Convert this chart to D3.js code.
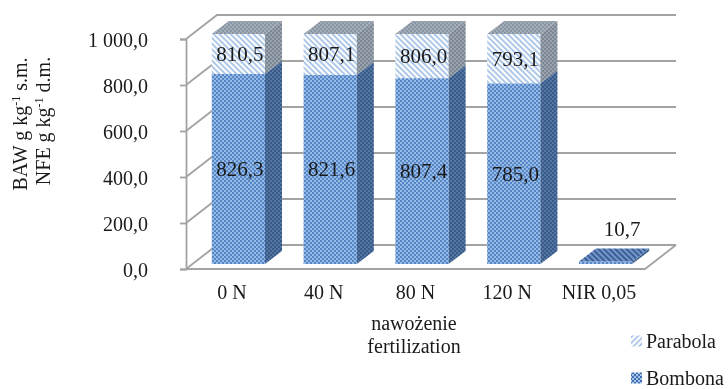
<!DOCTYPE html>
<html>
<head>
<meta charset="utf-8">
<script src="https://cdn.jsdelivr.net/npm/d3@7"></script>
<style>
html, body { margin: 0; padding: 0; background: #fff; }
svg { display: block; filter: blur(0.55px); }
text { font-family: "Liberation Serif", serif; font-size: 20px; fill: #1a1a1a; }
.wall { stroke: #a3a3a3; stroke-width: 1.8; fill: none; }
.val { font-size: 21px; }
</style>
</head>
<body>
<div class="chart"></div>
<script>
var categories = ["0 N", "40 N", "80 N", "120 N", "NIR 0,05"];
var bombona = [826.3, 821.6, 807.4, 785.0, 10.7];
var parabola = [810.5, 807.1, 806.0, 793.1, 0];
var yTicks = [0, 200, 400, 600, 800, 1000];
var legendNames = ["Parabola", "Bombona"];
var xTitle = ["nawożenie", "fertilization"];

var width = 728, height = 389;
var svg = d3.select(".chart").append("svg")
    .attr("width", width)
    .attr("height", height);

// fake 3d: floor depth of the plot and how far into it the bars sit
var floorDx = 31, floorDy = -24;
var barOffX = 6.5, barOffY = -5, barDx = 17, barDy = -13;

var x = d3.scaleBand().domain(categories).range([186, 645]).paddingInner(0.42).paddingOuter(0.21);
var y = d3.scaleLinear().domain([0, 1000]).range([269, 39]);
var locale = d3.formatLocale({ decimal: ",", thousands: " ", grouping: [3] });
var fmt = locale.format(",.1f");

var defs = svg.append("defs");

function checker(id, bg, dot) {
  var p = defs.append("pattern").attr("id", id).attr("width", 4).attr("height", 4)
      .attr("patternUnits", "userSpaceOnUse");
  p.append("rect").attr("width", 4).attr("height", 4).attr("fill", bg);
  p.append("rect").attr("width", 2).attr("height", 2).attr("fill", dot);
  p.append("rect").attr("x", 2).attr("y", 2).attr("width", 2).attr("height", 2).attr("fill", dot);
}
function stripes(id, bg, line, w, angle) {
  var p = defs.append("pattern").attr("id", id).attr("width", 4).attr("height", 4)
      .attr("patternUnits", "userSpaceOnUse").attr("patternTransform", "rotate(" + angle + ")");
  p.append("rect").attr("width", 4).attr("height", 4).attr("fill", bg);
  p.append("rect").attr("width", 4).attr("height", w).attr("fill", line);
}
checker("bombonaFront", "#97b9e6", "#5586c6");
checker("bombonaSide", "#54769f", "#375a8a");
stripes("parabolaFront", "#ffffff", "#aec8e8", 2, 45);
checker("parabolaSide", "#9aa3ad", "#7b8794");
checker("parabolaTop", "#a3adb9", "#8a96a4");
stripes("nirTop", "#7397ca", "#3b5f96", 2, 45);
stripes("legendParabola", "#ffffff", "#9dbce3", 1.6, -45);
checker("legendBombona", "#a9c5ea", "#3f6fb0");

// walls and floor
var grid = svg.append("g");
grid.selectAll(".grid")
  .data(yTicks)
  .enter().append("polyline")
    .attr("class", "wall")
    .attr("points", function(d) {
      return [
        [x.range()[0], y(d)],
        [x.range()[0] + floorDx, y(d) + floorDy],
        [x.range()[1] + floorDx, y(d) + floorDy]
      ].join(" ");
    });
grid.append("polyline")
    .attr("class", "wall")
    .attr("points", [
      [x.range()[0], y(0)],
      [x.range()[1], y(0)],
      [x.range()[1] + floorDx, y(0) + floorDy]
    ].join(" "));

var axis = d3.axisLeft(y)
    .tickValues(yTicks)
    .tickSize(6)
    .tickPadding(32)
    .tickFormat(fmt);
var axisG = svg.append("g")
    .attr("transform", "translate(" + x.range()[0] + ",0)")
    .call(axis);
axisG.select(".domain").attr("stroke", "#a3a3a3").attr("stroke-width", 1.8);
axisG.selectAll(".tick line").attr("stroke", "#a3a3a3").attr("stroke-width", 1.8);
axisG.selectAll(".tick text")
    .style("font-family", '"Liberation Serif", serif')
    .style("font-size", "20px")
    .attr("fill", "#1a1a1a")
    .attr("y", 1);

// one box: front, side, optional top. v0/v1 are clamped to the axis max
function drawBox(g, cat, v0, v1, front, side, top) {
  var x0 = x(cat) + barOffX, x1 = x0 + x.bandwidth();
  var y0 = y(Math.min(v0, 1000)) + barOffY, y1 = y(Math.min(v1, 1000)) + barOffY;
  g.append("path").attr("fill", "url(#" + front + ")")
      .attr("d", "M" + x0 + "," + y0 + "L" + x1 + "," + y0 + "L" + x1 + "," + y1 + "L" + x0 + "," + y1 + "Z");
  g.append("path").attr("fill", "url(#" + side + ")")
      .attr("d", "M" + x1 + "," + y0 + "l" + barDx + "," + barDy + "L" + (x1 + barDx) + "," + (y1 + barDy) + "L" + x1 + "," + y1 + "Z");
  if (top) {
    g.append("path").attr("fill", "url(#" + top + ")")
        .attr("d", "M" + x0 + "," + y1 + "L" + x1 + "," + y1 + "l" + barDx + "," + barDy + "l" + (-x.bandwidth()) + ",0Z");
  }
}

var bars = svg.append("g");
categories.forEach(function(c, i) {
  var g = bars.append("g");
  if (parabola[i] > 0) {
    drawBox(g, c, bombona[i], bombona[i] + parabola[i], "parabolaFront", "parabolaSide", "parabolaTop");
    drawBox(g, c, 0, bombona[i], "bombonaFront", "bombonaSide");
  } else {
    drawBox(g, c, 0, bombona[i], "bombonaFront", "bombonaSide", "nirTop");
  }
});

// value labels
function cx(c) { return x(c) + x.bandwidth() / 2 + barOffX + 1.5; }
function labelY(a, b) { return (y(Math.min(a, 1000)) + y(Math.min(b, 1000))) / 2 + barOffY; }
var labels = svg.append("g").attr("text-anchor", "middle");
categories.forEach(function(c, i) {
  if (parabola[i] > 0) {
    labels.append("text").attr("class", "val").attr("x", cx(c)).attr("y", labelY(0, bombona[i])).attr("dy", ".33em").text(fmt(bombona[i]));
    labels.append("text").attr("class", "val").attr("x", cx(c)).attr("y", labelY(bombona[i], bombona[i] + parabola[i])).attr("dy", ".33em").text(fmt(parabola[i]));
  } else {
    labels.append("text").attr("class", "val").attr("x", cx(c) + 15).attr("y", y(bombona[i]) - 37).attr("dy", ".33em").text(fmt(bombona[i]));
  }
});

// category labels
svg.append("g").attr("text-anchor", "middle")
  .selectAll("text")
  .data(categories)
  .enter().append("text")
    .attr("x", function(d) { return x(d) + x.bandwidth() / 2; })
    .attr("y", 299)
    .text(function(d) { return d; });

svg.append("g").attr("text-anchor", "middle")
  .selectAll("text")
  .data(xTitle)
  .enter().append("text")
    .attr("x", 414)
    .attr("y", function(d, i) { return 330 + i * 23; })
    .text(function(d) { return d; });

// y title, two rotated lines
function yTitle(px, py, a, b) {
  var t = svg.append("text").attr("transform", "translate(" + px + "," + py + ") rotate(-90)").attr("text-anchor", "middle");
  t.append("tspan").text(a + " g kg");
  t.append("tspan").attr("dy", -7).style("font-size", "12px").text("-1");
  t.append("tspan").attr("dy", 7).text(" " + b);
}
yTitle(27, 124, "BAW", "s.m.");
yTitle(50, 121, "NFE", "d.m.");

// legend
var legend = svg.append("g");
legendNames.forEach(function(n, i) {
  var ly = 341 + i * 37;
  legend.append("rect").attr("x", 631).attr("y", ly - 5.5).attr("width", 11).attr("height", 11)
      .attr("fill", "url(#" + (i == 0 ? "legendParabola" : "legendBombona") + ")");
  legend.append("text").attr("x", 646).attr("y", ly).attr("dy", ".33em").text(n);
});
</script>
</body>
</html>
